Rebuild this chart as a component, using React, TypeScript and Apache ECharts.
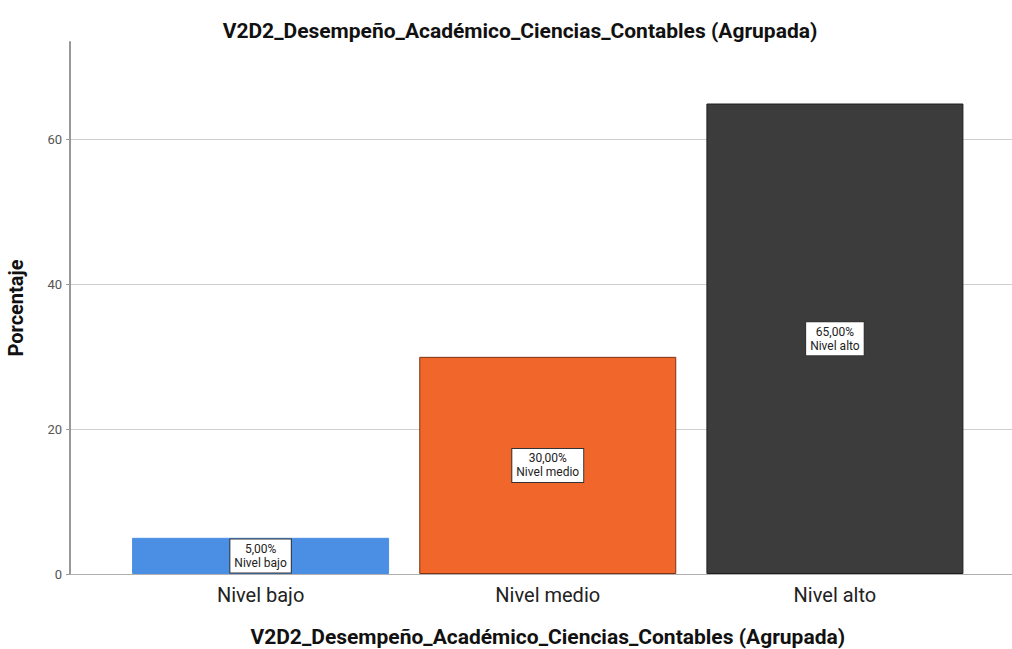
import React, { useEffect, useRef } from "react";
import * as echarts from "echarts";

const categories = ["Nivel bajo", "Nivel medio", "Nivel alto"];
const percentages = [5, 30, 65];
const barColors = ["#4a8fe3", "#f1672b", "#3c3c3d"];
const barBorders = ["#4a8fe3", "#7a3315", "#1e1e1e"];
const yTicks = [0, 20, 40, 60];

const titleText = "V2D2_Desempeño_Académico_Ciencias_Contables (Agrupada)";
const yAxisTitle = "Porcentaje";

const FONT = "'Roboto', 'Noto Sans', sans-serif";

export default function App() {
  const ref = useRef<HTMLDivElement>(null);
  useEffect(() => {
    if (!ref.current) return;
    const chart = echarts.init(ref.current, undefined, { renderer: "svg" });
    const yMax = 73.5;
    chart.setOption({
      animation: false,
      backgroundColor: "#ffffff",
      textStyle: { fontFamily: FONT },
      title: {
        text: titleText,
        left: 515,
        top: 15,
        textAlign: "center",
        textStyle: { fontFamily: FONT, fontWeight: "bold", fontSize: 21, color: "#111" },
      },
      grid: [
        { left: 70, right: 0, top: 42, bottom: 75, outerBoundsMode: "none", containLabel: false },
        { left: 117, width: 861.5, top: 42, bottom: 75, outerBoundsMode: "none", containLabel: false },
      ],
      xAxis: [
        {
          type: "category",
          gridIndex: 0,
          data: [""],
          axisLine: { show: true, lineStyle: { color: "#b0b0b0", width: 1 } },
          axisTick: { show: false },
          axisLabel: { show: false },
        },
        {
          type: "category",
          gridIndex: 1,
          data: categories,
          axisLine: { show: false },
          axisTick: { show: false },
          axisLabel: { fontSize: 20, color: "#222", margin: 11, fontFamily: FONT },
          name: titleText,
          nameLocation: "middle",
          nameGap: 52,
          nameTextStyle: { fontSize: 21, fontWeight: "bold", color: "#111", fontFamily: FONT },
        },
      ],
      yAxis: [
        {
          type: "value",
          gridIndex: 0,
          min: 0,
          max: yMax,
          interval: 20,
          axisLine: { show: true, lineStyle: { color: "#999", width: 2 } },
          axisTick: { show: true, length: 4, lineStyle: { color: "#999" } },
          axisLabel: {
            fontSize: 13,
            color: "#555",
            margin: 8,
            showMaxLabel: false,
            formatter: (v: number) => (yTicks.includes(v) ? String(v) : ""),
          },
          splitLine: { show: true, showMaxLine: false, showMinLine: false, lineStyle: { color: "#cfcfcf", width: 1 } },
          name: yAxisTitle,
          nameLocation: "middle",
          nameGap: 44,
          nameRotate: 90,
          nameTextStyle: { fontSize: 20, fontWeight: "bold", color: "#111", fontFamily: FONT },
        },
        {
          type: "value",
          gridIndex: 1,
          min: 0,
          max: yMax,
          show: false,
          splitLine: { show: false },
        },
      ],
      series: [
        {
          type: "bar",
          xAxisIndex: 1,
          yAxisIndex: 1,
          barWidth: 257,
          data: percentages.map((v, i) => ({
            value: v,
            itemStyle: { color: barColors[i], borderColor: barBorders[i], borderWidth: 1 },
          })),
          label: {
            show: true,
            position: "inside",
            formatter: (p: any) => `${p.value.toFixed(2).replace(".", ",")}%\n${categories[p.dataIndex]}`,
            backgroundColor: "#ffffff",
            borderColor: "#333",
            borderWidth: 1,
            padding: [3, 4, 2, 4],
            fontSize: 12,
            lineHeight: 14,
            color: "#222",
            fontFamily: FONT,
            align: "center",
          },
        },
      ],
    });
    return () => chart.dispose();
  }, []);
  return (
    <div
      ref={ref}
      style={{ position: "fixed", left: 0, top: 0, width: 1012, height: 649 }}
    />
  );
}
